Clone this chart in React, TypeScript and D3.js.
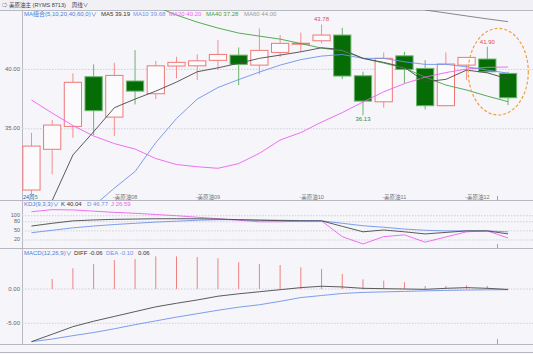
import React from "react";
import * as d3 from "d3";

// weekly candles
const open = [29.84, 33.27, 35.2, 39.38, 35.98, 39.02, 37.95, 40.28, 40.3, 40.76, 41.2, 40.36, 41.43, 42.12, 42.41, 42.89, 39.46, 37.27, 41.14, 40.08, 36.94, 40.36, 40.87, 39.66];
const close = [33.54, 35.31, 38.91, 36.52, 39.49, 38.17, 40.3, 40.59, 40.72, 41.26, 40.42, 41.6, 42.19, 42.2, 42.89, 39.44, 37.33, 40.93, 40.0, 36.94, 40.45, 41.01, 39.8, 37.61];
const high = [34.66, 35.73, 39.66, 40.42, 40.56, 41.62, 40.72, 41.06, 41.26, 42.47, 41.85, 43.45, 42.89, 43.11, 43.78, 43.5, 39.8, 41.43, 41.48, 40.78, 41.43, 41.05, 41.9, 39.8];
const low = [29.42, 31.16, 34.24, 34.47, 34.39, 37.05, 37.5, 39.24, 39.1, 39.94, 38.68, 39.58, 41.06, 41.48, 42.19, 39.18, 36.13, 36.77, 38.82, 36.63, 36.9, 39.1, 39.71, 37.0];

// moving averages
const ma5 = [null, 28.95, 32.79, 34.75, 36.77, 37.5, 38.17, 38.93, 39.8, 40.13, 40.51, 40.93, 41.2, 41.48, 41.82, 41.67, 40.93, 40.59, 40.17, 38.96, 39.16, 39.94, 39.71, 39.19];
const ma10 = [null, null, null, 28.5, 30.0, 31.4, 33.83, 35.86, 37.5, 38.47, 39.14, 39.77, 40.36, 40.82, 41.12, 41.25, 40.93, 40.93, 40.64, 40.42, 40.42, 40.22, 39.94, 39.68];
const ma20 = [37.42, 36.32, 35.27, 34.39, 33.75, 33.29, 32.49, 31.99, 31.8, 31.67, 32.07, 32.93, 34.05, 34.68, 35.56, 36.36, 37.25, 38.11, 38.8, 39.35, 39.73, 40.03, 40.17, 40.2];
const ma40 = [null, null, null, null, null, null, 45.3, 44.57, 43.98, 43.48, 43.06, 42.8, 42.55, 42.17, 41.79, 41.58, 40.93, 40.53, 40.11, 39.35, 38.68, 38.26, 37.75, 37.28];
const ma60 = [null, null, null, null, null, null, null, null, null, null, null, null, null, null, null, null, null, null, null, 45.0, 44.75, 44.5, 44.25, 44.02];

// KDJ(9,3,3)
const kVals = [66, 75, 83, 86, 88, 89, 90, 90, 90, 89, 87, 85, 84, 83, 83, 65, 47, 53, 47, 40, 45, 50, 50, 40.04];
const dVals = [44, 52, 60, 66, 71, 75, 79, 82, 85, 87, 87, 86, 85, 84, 83, 75, 67, 62, 56, 52, 50, 50, 50, 46.77];
const jVals = [113, 120, 119, 115, 111, 108, 104, 100, 95, 90, 85, 80, 80, 82, 83, 31, 7, 31, 37, 13, 30, 47, 50, 26.59];

// MACD(12,26,9)
const diff = [-7.68, -6.6, -5.49, -4.7, -4.0, -3.3, -2.6, -2.08, -1.6, -1.05, -0.7, -0.4, -0.1, 0.2, 0.4, 0.3, 0.1, 0.05, 0.0, -0.05, 0.1, 0.2, 0.1, -0.06];
const dea = [-7.68, -7.3, -6.8, -6.35, -5.8, -5.2, -4.65, -4.1, -3.6, -3.1, -2.65, -2.3, -1.8, -1.25, -0.95, -0.65, -0.5, -0.42, -0.35, -0.27, -0.2, -0.15, -0.12, -0.1];
const hist = [0, 1.46, 3.02, 3.64, 4.23, 4.37, 4.76, 4.76, 4.66, 4.47, 3.89, 3.64, 3.5, 3.16, 2.92, 2.19, 1.41, 1.21, 0.98, 0.44, 0.44, 0.54, 0.44, 0.06];

// axis labels
const priceTicks = [40, 35];
const kdjTicks = [100, 80, 50, 20];
const macdTicks = [0, -5];
const monthIdx = [4, 8, 13, 17, 21];
const monthNames = ["美原油08", "美原油09", "美原油10", "美原油11", "美原油12"];

const W = 533;
const H = 354;
const L = 22;
const FONT = '"Liberation Sans", "Noto Sans CJK SC", sans-serif';
const RED = "#f07878";
const GREEN_FILL = "#066c06";
const GREEN_LINE = "#6cb46c";
const C_MA5 = "#4a4a4a";
const C_MA10 = "#6f93ea";
const C_MA20 = "#f060f0";
const C_MA40 = "#46a246";
const C_MA60 = "#7a7a7a";
const GRID = "#cfcfd8";
const BORDER = "#b8b8c2";

export default function App() {
  const idx = open.map((_, i) => i);
  const x = d3.scaleBand<number>().domain(idx).range([21.1, 518.4]).paddingInner(0.12).paddingOuter(0.06);
  const bw = x.bandwidth();
  const cx = (i: number) => (x(i) as number) + bw / 2;

  const y = d3.scaleLinear().domain([29, 45]).range([200, 10]);
  const yk = d3.scaleLinear().domain([-6.3, 151.7]).range([248, 200]);
  const ym = d3.scaleLinear().domain([-8.02, 5.98]).range([344, 248]);

  const mkLine = (sc: d3.ScaleLinear<number, number>) =>
    d3
      .line<number | null>()
      .defined((v) => v != null)
      .x((_, i) => cx(i))
      .y((v) => sc(v as number));

  const lp = mkLine(y);
  const lk = mkLine(yk);
  const lm = mkLine(ym);

  const txt = { fontFamily: FONT, fontSize: 6 } as const;

  return (
    <svg width={W} height={H} style={{ position: "fixed", left: 0, top: 0, background: "#f5f5fa" }}>
      <defs>
        <clipPath id="cMain"><rect x={L} y={10} width={W - L} height={190} /></clipPath>
        <clipPath id="cKdj"><rect x={L} y={200} width={W - L} height={48} /></clipPath>
        <clipPath id="cMacd"><rect x={L} y={248} width={W - L} height={96} /></clipPath>
      </defs>
      <rect x={0} y={0} width={W} height={H} fill="#f5f5fa" />
      <rect x={0} y={0} width={W} height={10} fill="#f1f1f5" />

      {/* title */}
      <text x={2} y={7} {...txt} fontSize={5.5} fill="#404050">
        ⇨ 美原油主 (RYMS 8713)
        <tspan dx={6}>周线∨</tspan>
      </text>

      {/* borders */}
      {[10, 200, 248, 344].map((v) => (
        <line key={v} x1={0} x2={W} y1={v + 0.5} y2={v + 0.5} stroke={BORDER} strokeWidth={1} />
      ))}
      <line x1={0} x2={W} y1={352.5} y2={352.5} stroke={BORDER} />
      <line x1={L + 0.5} x2={L + 0.5} y1={10} y2={344} stroke={BORDER} />

      {/* grids */}
      {priceTicks.map((t) => (
        <g key={"p" + t}>
          <line x1={L} x2={W} y1={y(t)} y2={y(t)} stroke={GRID} strokeDasharray="1.5,1.5" />
          <text x={20} y={y(t)} textAnchor="end" dominantBaseline="middle" {...txt} fill="#666">
            {t.toFixed(2)}
          </text>
        </g>
      ))}
      {kdjTicks.map((t) => (
        <g key={"k" + t}>
          <line x1={L} x2={W} y1={yk(t)} y2={yk(t)} stroke={GRID} strokeDasharray="1.5,1.5" />
          <text x={20} y={yk(t)} textAnchor="end" dominantBaseline="middle" {...txt} fontSize={5.5} fill="#666">
            {t}
          </text>
        </g>
      ))}
      {macdTicks.map((t) => (
        <g key={"m" + t}>
          <line x1={L} x2={W} y1={ym(t)} y2={ym(t)} stroke={GRID} strokeDasharray="1.5,1.5" />
          <text x={20} y={ym(t)} textAnchor="end" dominantBaseline="middle" {...txt} fill="#666">
            {t.toFixed(2)}
          </text>
        </g>
      ))}

      {/* month labels */}
      {monthIdx.map((m, j) => (
        <text key={m} x={cx(m) - 1.5} y={199} {...txt} fontSize={5.5} fill="#777">
          -{monthNames[j]}
        </text>
      ))}
      <text x={23} y={199} {...txt} fontSize={5.5} fill="#3050b0">
        24周<tspan fill="#3a9a3a">5</tspan>
      </text>
      {[[196, 200], [244, 248], [339, 344]].map(([a, b]) => (
        <line key={a} x1={497.5} x2={497.5} y1={a} y2={b} stroke="#a0a0a8" />
      ))}

      {/* candles */}
      <g clipPath="url(#cMain)">
        {idx.map((i) => {
          const up = close[i] >= open[i];
          const top = y(Math.max(open[i], close[i]));
          const bot = y(Math.min(open[i], close[i]));
          const c = cx(i);
          return (
            <g key={i}>
              <line x1={c} x2={c} y1={y(high[i])} y2={top} stroke={up ? "#f29090" : GREEN_LINE} />
              <line x1={c} x2={c} y1={bot} y2={y(low[i])} stroke={up ? "#f29090" : GREEN_LINE} />
              <rect
                x={c - bw / 2 + 0.5}
                y={top}
                width={bw - 1}
                height={Math.max(bot - top, 1)}
                fill={up ? "#fbfbfd" : GREEN_FILL}
                stroke={up ? RED : GREEN_LINE}
                strokeWidth={1}
              />
            </g>
          );
        })}
        <path d={lp(ma60) ?? ""} fill="none" stroke={C_MA60} strokeWidth={0.9} />
        <path d={lp(ma40) ?? ""} fill="none" stroke={C_MA40} strokeWidth={0.9} />
        <path d={lp(ma20) ?? ""} fill="none" stroke={C_MA20} strokeWidth={0.9} />
        <path d={lp(ma10) ?? ""} fill="none" stroke={C_MA10} strokeWidth={0.9} />
        <path d={lp(ma5) ?? ""} fill="none" stroke={C_MA5} strokeWidth={0.9} />
      </g>

      {/* price annotations */}
      <text x={cx(14)} y={y(43.78) - 3} textAnchor="middle" {...txt} fill="#e84848">43.78</text>
      <text x={cx(22)} y={y(41.9) - 3} textAnchor="middle" {...txt} fill="#e84848">41.90</text>
      <text x={cx(16)} y={y(36.13) + 6} textAnchor="middle" {...txt} fill="#3a8a3a">36.13</text>
      <ellipse cx={498.3} cy={71.7} rx={30} ry={43.3} fill="none" stroke="#f0a040" strokeWidth={1.2} strokeDasharray="3,2" />

      {/* MA legend */}
      <text y={16} {...txt}>
        <tspan x={24} fill="#4a7fd8">MA组合(5,10,20,40,60,0)∨</tspan>
        <tspan x={101} fill="#333">MA5 39.19</tspan>
        <tspan x={133} fill={C_MA10}>MA10 39.68</tspan>
        <tspan x={169} fill={C_MA20}>MA20 40.20</tspan>
        <tspan x={206} fill={C_MA40}>MA40 37.28</tspan>
        <tspan x={244} fill="#999">MA60 44.00</tspan>
      </text>

      {/* KDJ */}
      <g clipPath="url(#cKdj)">
        <path d={lk(jVals) ?? ""} fill="none" stroke={C_MA20} strokeWidth={0.9} />
        <path d={lk(dVals) ?? ""} fill="none" stroke={C_MA10} strokeWidth={0.9} />
        <path d={lk(kVals) ?? ""} fill="none" stroke={C_MA5} strokeWidth={0.9} />
      </g>
      <text y={206} {...txt}>
        <tspan x={24} fill="#4a7fd8">KDJ(9,3,3)∨</tspan>
        <tspan x={61} fill="#333">K 40.04</tspan>
        <tspan x={87} fill={C_MA10}>D 46.77</tspan>
        <tspan x={111} fill={C_MA20}>J 26.59</tspan>
      </text>

      {/* MACD */}
      <g clipPath="url(#cMacd)">
        {idx.map((i) => (
          <line key={i} x1={cx(i)} x2={cx(i)} y1={ym(0)} y2={ym(hist[i])} stroke="#f08080" strokeWidth={1} />
        ))}
        <path d={lm(dea) ?? ""} fill="none" stroke={C_MA10} strokeWidth={0.9} />
        <path d={lm(diff) ?? ""} fill="none" stroke={C_MA5} strokeWidth={0.9} />
      </g>
      <text y={254.5} {...txt}>
        <tspan x={24} fill="#4a7fd8">MACD(12,26,9)∨</tspan>
        <tspan x={74} fill="#333">DIFF -0.06</tspan>
        <tspan x={106} fill={C_MA10}>DEA -0.10</tspan>
        <tspan x={138} fill="#333">0.06</tspan>
      </text>
    </svg>
  );
}
